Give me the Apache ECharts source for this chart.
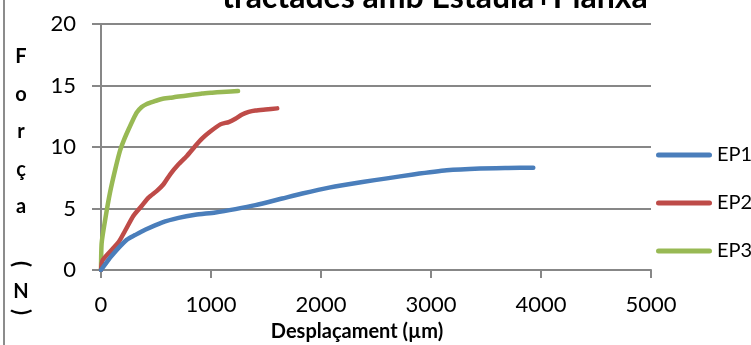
<!DOCTYPE html>
<html>
<head>
<meta charset="utf-8">
<script src="https://cdn.jsdelivr.net/npm/echarts@6/dist/echarts.min.js"></script>
<style>
  html, body { margin: 0; padding: 0; background: #fff; }
  #chart { width: 751px; height: 345px; }
</style>
</head>
<body>
<div id="chart"></div>
<script>
// Displacement (µm) and force (N) readings for each specimen
const ep1Disp  = [0, 97, 234, 310, 401, 553, 705, 857, 1040, 1222, 1404, 1647, 1830, 2073, 2377, 2600, 2839, 3143, 3445, 3700, 3930];
const ep1Force = [0, 1.16, 2.46, 2.84, 3.27, 3.86, 4.24, 4.49, 4.68, 4.95, 5.27, 5.81, 6.22, 6.70, 7.16, 7.45, 7.77, 8.11, 8.26, 8.30, 8.32];

const ep2Disp  = [0, 15, 158, 219, 295, 371, 432, 508, 568, 629, 705, 781, 857, 918, 979, 1085, 1161, 1222, 1283, 1343, 1404, 1495, 1602];
const ep2Force = [0, 0.8, 2.24, 3.19, 4.41, 5.22, 5.89, 6.43, 6.97, 7.78, 8.59, 9.27, 10.08, 10.68, 11.16, 11.84, 12.03, 12.30, 12.65, 12.86, 12.97, 13.05, 13.14];

const ep3Disp  = [0, 6, 40, 82, 130, 173, 210, 249, 290, 325, 370, 416, 480, 553, 630, 705, 800, 918, 1010, 1100, 1180, 1246];
const ep3Force = [0, 2.2, 4.2, 6.3, 8.2, 9.7, 10.6, 11.4, 12.2, 12.8, 13.25, 13.5, 13.7, 13.9, 14.0, 14.1, 14.2, 14.35, 14.42, 14.48, 14.52, 14.55];

const seriesNames = ['EP1', 'EP2', 'EP3'];
const seriesColors = ['#4A7EBB', '#BE4B48', '#98B954'];

const titleText = 'tractades amb Estaula+Planxa';
const xAxisTitle = 'Desplaçament (µm)';
const yAxisChars = ['F', 'o', 'r', 'ç', 'a', '(', 'N', ')'];

const FONT = 'Lato, "Liberation Sans", sans-serif';
const GRAY = '#878787';

function pairs(xs, ys) { return xs.map((x, i) => [x, ys[i]]); }
const seriesData = [pairs(ep1Disp, ep1Force), pairs(ep2Disp, ep2Force), pairs(ep3Disp, ep3Force)];

// Stacked vertical axis title; the parentheses are turned a quarter turn
const yCharPos = [57, 95, 132, 170, 207, 264, 292, 312];
const yTitleGraphics = yAxisChars.map((ch, i) => {
  const isParen = ch === '(' || ch === ')';
  return {
    type: 'text',
    x: 21,
    y: yCharPos[i],
    rotation: isParen ? -Math.PI / 2 : 0,
    style: {
      text: ch,
      fill: '#000',
      font: 'bold ' + (isParen ? 22 : 20) + 'px ' + FONT,
      align: 'center',
      verticalAlign: 'middle'
    }
  };
});

const chart = echarts.init(document.getElementById('chart'), null, { renderer: 'canvas' });

chart.setOption({
  animation: false,
  backgroundColor: '#fff',
  title: {
    text: titleText,
    left: 222,
    top: -18,
    padding: 0,
    textStyle: { fontFamily: FONT, fontWeight: 'bold', fontSize: 32, color: '#000' }
  },
  grid: { left: 101, right: 100, top: 24, bottom: 75, containLabel: false, outerBoundsMode: 'none' },
  legend: {
    orient: 'vertical',
    left: 651,
    top: 140,
    itemWidth: 56,
    itemHeight: 5,
    itemGap: 28,
    icon: 'path://M2.5,0 L53.5,0 A2.5,2.5 0 0 1 53.5,5 L2.5,5 A2.5,2.5 0 0 1 2.5,0 Z',
    textStyle: { fontFamily: FONT, fontSize: 20, color: '#000', lineHeight: 20 },
    data: seriesNames
  },
  xAxis: {
    type: 'value',
    min: 0,
    max: 5000,
    interval: 1000,
    name: xAxisTitle,
    nameLocation: 'middle',
    nameGap: 52,
    nameTextStyle: { fontFamily: FONT, fontWeight: 'bold', fontSize: 20, color: '#000', padding: [0, 38, 0, 0] },
    axisLine: { show: true, lineStyle: { color: GRAY, width: 2 } },
    axisTick: { show: true, inside: false, length: 8, lineStyle: { color: GRAY, width: 2 } },
    axisLabel: { fontFamily: FONT, fontSize: 22, color: '#000', margin: 24, formatter: v => String(v) },
    splitLine: { show: false }
  },
  yAxis: {
    type: 'value',
    min: 0,
    max: 20,
    interval: 5,
    axisLine: { show: true, lineStyle: { color: GRAY, width: 2 } },
    axisTick: { show: true, inside: false, length: 9, lineStyle: { color: GRAY, width: 2 } },
    axisLabel: { fontFamily: FONT, fontSize: 22, color: '#000', margin: 25, formatter: v => String(v) },
    splitLine: { show: true, lineStyle: { color: GRAY, width: 2 } }
  },
  graphic: [
    {
      type: 'line',
      shape: { x1: 4, y1: 0, x2: 4, y2: 345 },
      style: { stroke: '#8c8c8c', lineWidth: 2 }
    },
    ...yTitleGraphics
  ],
  series: seriesNames.map((name, i) => ({
    name: name,
    type: 'line',
    data: seriesData[i],
    showSymbol: false,
    symbol: 'none',
    smooth: 0.2,
    color: seriesColors[i],
    lineStyle: { color: seriesColors[i], width: 4.5, cap: 'round', join: 'round' },
    z: 3 + (2 - i)
  }))
});
</script>
</body>
</html>
